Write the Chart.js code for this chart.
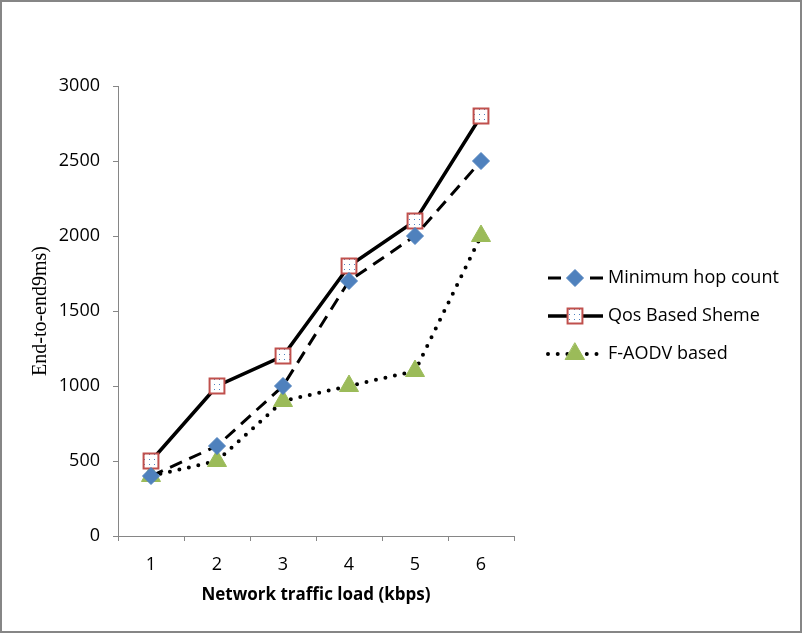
<!DOCTYPE html>
<html>
<head>
<meta charset="utf-8">
<script src="https://cdn.jsdelivr.net/npm/chart.js@4/dist/chart.umd.min.js"></script>
<style>
  html, body { margin: 0; padding: 0; background: #fff; }
  #frame { width: 802px; height: 633px; box-sizing: border-box; border: 2px solid #868686; position: relative; background: #fff; }
  #wrap { position: absolute; left: 0; top: 0; width: 798px; height: 629px; }
</style>
</head>
<body>
<div id="frame"><div id="wrap"><canvas id="delayChart"></canvas></div></div>
<script>
// ── Data ────────────────────────────────────────────────────
const loads      = ['1', '2', '3', '4', '5', '6'];
const minHop     = [400, 600, 1000, 1700, 2000, 2500];
const qosBased   = [500, 1000, 1200, 1800, 2100, 2800];
const fAodv      = [400, 500, 900, 1000, 1100, 2000];
const seriesNames = ['Minimum hop count', 'Qos Based Sheme', 'F-AODV based'];

const AXIS_GRAY = '#868686';
const TICK_FONT = { family: "'Open Sans', sans-serif", size: 18 };

// small dotted fill like the Excel square marker
function dotPattern() {
  const c = document.createElement('canvas');
  c.width = 5; c.height = 5;
  const g = c.getContext('2d');
  g.fillStyle = '#fff'; g.fillRect(0, 0, 5, 5);
  g.fillStyle = '#4F81BD'; g.fillRect(2, 2, 1, 1);
  return g.createPattern(c, 'repeat');
}

// ── Legend: line sample with marker in the middle ──────────
const sideLegend = {
  id: 'sideLegend',
  afterDraw(chart) {
    const ctx = chart.ctx;
    const rows = [276, 314, 352];
    chart.data.datasets.forEach((ds, i) => {
      const y = rows[i];
      ctx.save();
      ctx.strokeStyle = ds.borderColor;
      ctx.lineWidth = ds.borderWidth;
      ctx.lineCap = ds.borderCapStyle || 'butt';
      ctx.setLineDash(ds.borderDash || []);
      ctx.beginPath();
      ctx.moveTo(546, y);
      ctx.lineTo(601, y);
      ctx.stroke();
      ctx.setLineDash([]);
      ctx.fillStyle = ds.pointBackgroundColor;
      ctx.strokeStyle = ds.pointBorderColor;
      ctx.lineWidth = ds.pointBorderWidth;
      Chart.helpers.drawPoint(ctx, { pointStyle: ds.pointStyle, radius: ds.pointRadius, rotation: 0, borderWidth: ds.pointBorderWidth }, 573, y);
      ctx.fillStyle = '#000';
      ctx.font = "18px 'Open Sans', sans-serif";
      ctx.textAlign = 'left';
      ctx.textBaseline = 'middle';
      ctx.fillText(ds.label, 606, y);
      ctx.restore();
    });
  }
};

new Chart(document.getElementById('delayChart'), {
  type: 'line',
  data: {
    labels: loads,
    datasets: [
      {
        label: seriesNames[0],
        data: minHop,
        borderColor: '#000',
        borderWidth: 3,
        borderDash: [13, 8],
        pointStyle: 'rectRot',
        pointRadius: 8.5,
        pointBackgroundColor: '#4F81BD',
        pointBorderColor: '#4F81BD',
        pointBorderWidth: 1,
      },
      {
        label: seriesNames[1],
        data: qosBased,
        borderColor: '#000',
        borderWidth: 3.5,
        pointStyle: 'rect',
        pointRadius: 10.5,
        pointBackgroundColor: dotPattern(),
        pointBorderColor: '#C0504D',
        pointBorderWidth: 2,
      },
      {
        label: seriesNames[2],
        data: fAodv,
        borderColor: '#000',
        borderWidth: 4,
        borderDash: [0, 9.7],
        borderCapStyle: 'round',
        pointStyle: 'triangle',
        pointRadius: 11,
        pointBackgroundColor: '#9BBB59',
        pointBorderColor: '#9BBB59',
        pointBorderWidth: 1,
      },
    ],
  },
  options: {
    responsive: true,
    maintainAspectRatio: false,
    animation: false,
    layout: { padding: { top: 84, right: 286, left: 0, bottom: 0 } },
    plugins: { legend: { display: false }, tooltip: { enabled: false } },
    scales: {
      x: {
        offset: true,
        grid: { offset: true, drawOnChartArea: false, drawTicks: true, tickLength: 5, color: AXIS_GRAY },
        border: { color: AXIS_GRAY, width: 1 },
        ticks: { color: '#000', font: TICK_FONT, padding: 13, maxRotation: 0 },
        title: {
          display: true,
          text: 'Network traffic load (kbps)',
          color: '#000',
          font: { family: "'Open Sans', sans-serif", size: 17, weight: 'bold' },
          padding: { top: 0, bottom: 26 },
        },
        afterFit(scale) { scale.height = 95; },
      },
      y: {
        min: 0,
        max: 3000,
        grid: { drawOnChartArea: false, drawTicks: true, tickLength: 5, color: AXIS_GRAY },
        border: { color: AXIS_GRAY, width: 1 },
        ticks: { stepSize: 500, color: '#000', font: TICK_FONT, padding: 13, callback: v => String(v) },
        title: {
          display: true,
          text: 'End-to-end9ms)',
          color: '#000',
          font: { family: "'Liberation Serif', serif", size: 20 },
          padding: { top: 27, bottom: 0 },
        },
        afterFit(scale) { scale.width = 116; },
      },
    },
  },
  plugins: [sideLegend],
});
</script>
</body>
</html>
